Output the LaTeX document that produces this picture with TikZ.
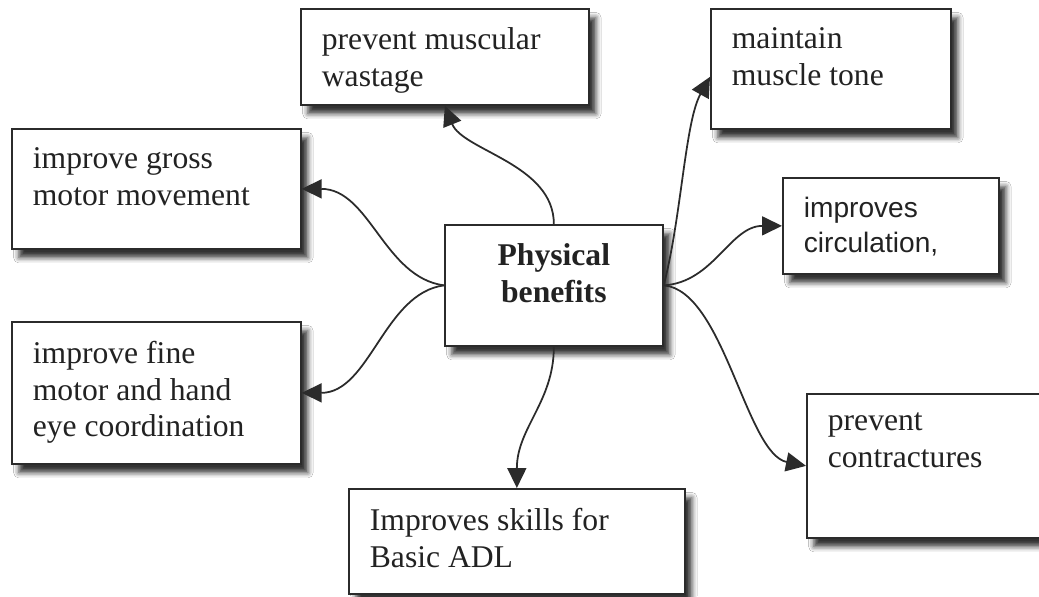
\documentclass[tikz,border=0pt]{standalone}
\usepackage{fontspec}
\setmainfont{Liberation Serif}
\newfontfamily\circsans{Liberation Sans}
\usetikzlibrary{arrows.meta,calc,shadows.blur}
\definecolor{pbline}{HTML}{2B2B2B}
\definecolor{pbtext}{HTML}{222222}
\newcommand{\toptext}[3]{\parbox[c][#2][t]{#1}{\raggedright #3}}
\tikzset{
  benefit/.style = {draw=pbline, fill=white, line width=1pt, anchor=north west,
                    inner xsep=0.42cm, inner ysep=0.38cm, text=pbtext,
                    font=\fontsize{18}{21}\selectfont,
                    blur shadow={shadow xshift=4pt, shadow yshift=-5pt,
                                 shadow blur radius=3pt, shadow opacity=80}},
  hub/.style     = {benefit, font=\fontsize{18}{21}\selectfont\bfseries},
  sansbox/.style = {benefit, font=\fontsize{16}{20}\circsans},
  link/.style    = {-{Triangle[length=4mm,width=3.8mm]}, draw=pbline,
                    line width=1pt},
}

\begin{document}
\begin{tikzpicture}[x=0.02cm, y=-0.02cm]
  \fill[white] (0,0) rectangle (1039,596);
  \useasboundingbox (0,0) rectangle (1039,596);

  % ---------- hub ---------------------------------------------------------
  \node[hub] (phys) at (444,224)
    {\toptext{3.52cm}{1.66cm}{\centering Physical\\ benefits}};

  % ---------- benefits ----------------------------------------------------
  \node[benefit] (wastage) at (300,8)
    {\toptext{4.92cm}{1.16cm}{prevent muscular\\ wastage}};
  \node[benefit] (tone)    at (710,8)
    {\toptext{3.96cm}{1.64cm}{maintain\\ muscle tone}};
  \node[benefit] (gross)   at (11,128)
    {\toptext{4.94cm}{1.64cm}{improve gross\\ motor movement}};
  \node[sansbox] (circ)    at (782,177)
    {\toptext{3.48cm}{1.16cm}{improves\\ circulation,}};
  \node[benefit] (fine)    at (11,321)
    {\toptext{4.94cm}{2.08cm}{improve fine\\ motor and hand\\ eye coordination}};
  \node[benefit] (contract) at (806,393)
    {\toptext{4.04cm}{2.12cm}{prevent\\ contractures}};
  \node[benefit] (adl)     at (348,488)
    {\toptext{5.88cm}{1.34cm}{Improves skills for\\ Basic ADL}};

  % ---------- connectors --------------------------------------------------
  \draw[link] (phys.north) .. controls +(0,-60) and +(18,45) .. (wastage.south);
  \draw[link] (phys.west) .. controls +(-60,-8) and +(68,0) .. (gross.east);
  \draw[link] (phys.west) .. controls +(-60,8) and +(68,0) .. (fine.east);
  \draw[link] (phys.east) .. controls +(18,-70) and +(-25,45) .. ($(tone.west)+(0,8)$);
  \draw[link] (phys.east) .. controls +(50,-3) and +(-52,0) .. (circ.west);
  \draw[link] (phys.east) .. controls +(60,5) and +(-60,-12) .. (contract.west);
  \draw[link] (phys.south) .. controls +(0,55) and +(0,-60) .. (adl.north);

\end{tikzpicture}
\end{document}
